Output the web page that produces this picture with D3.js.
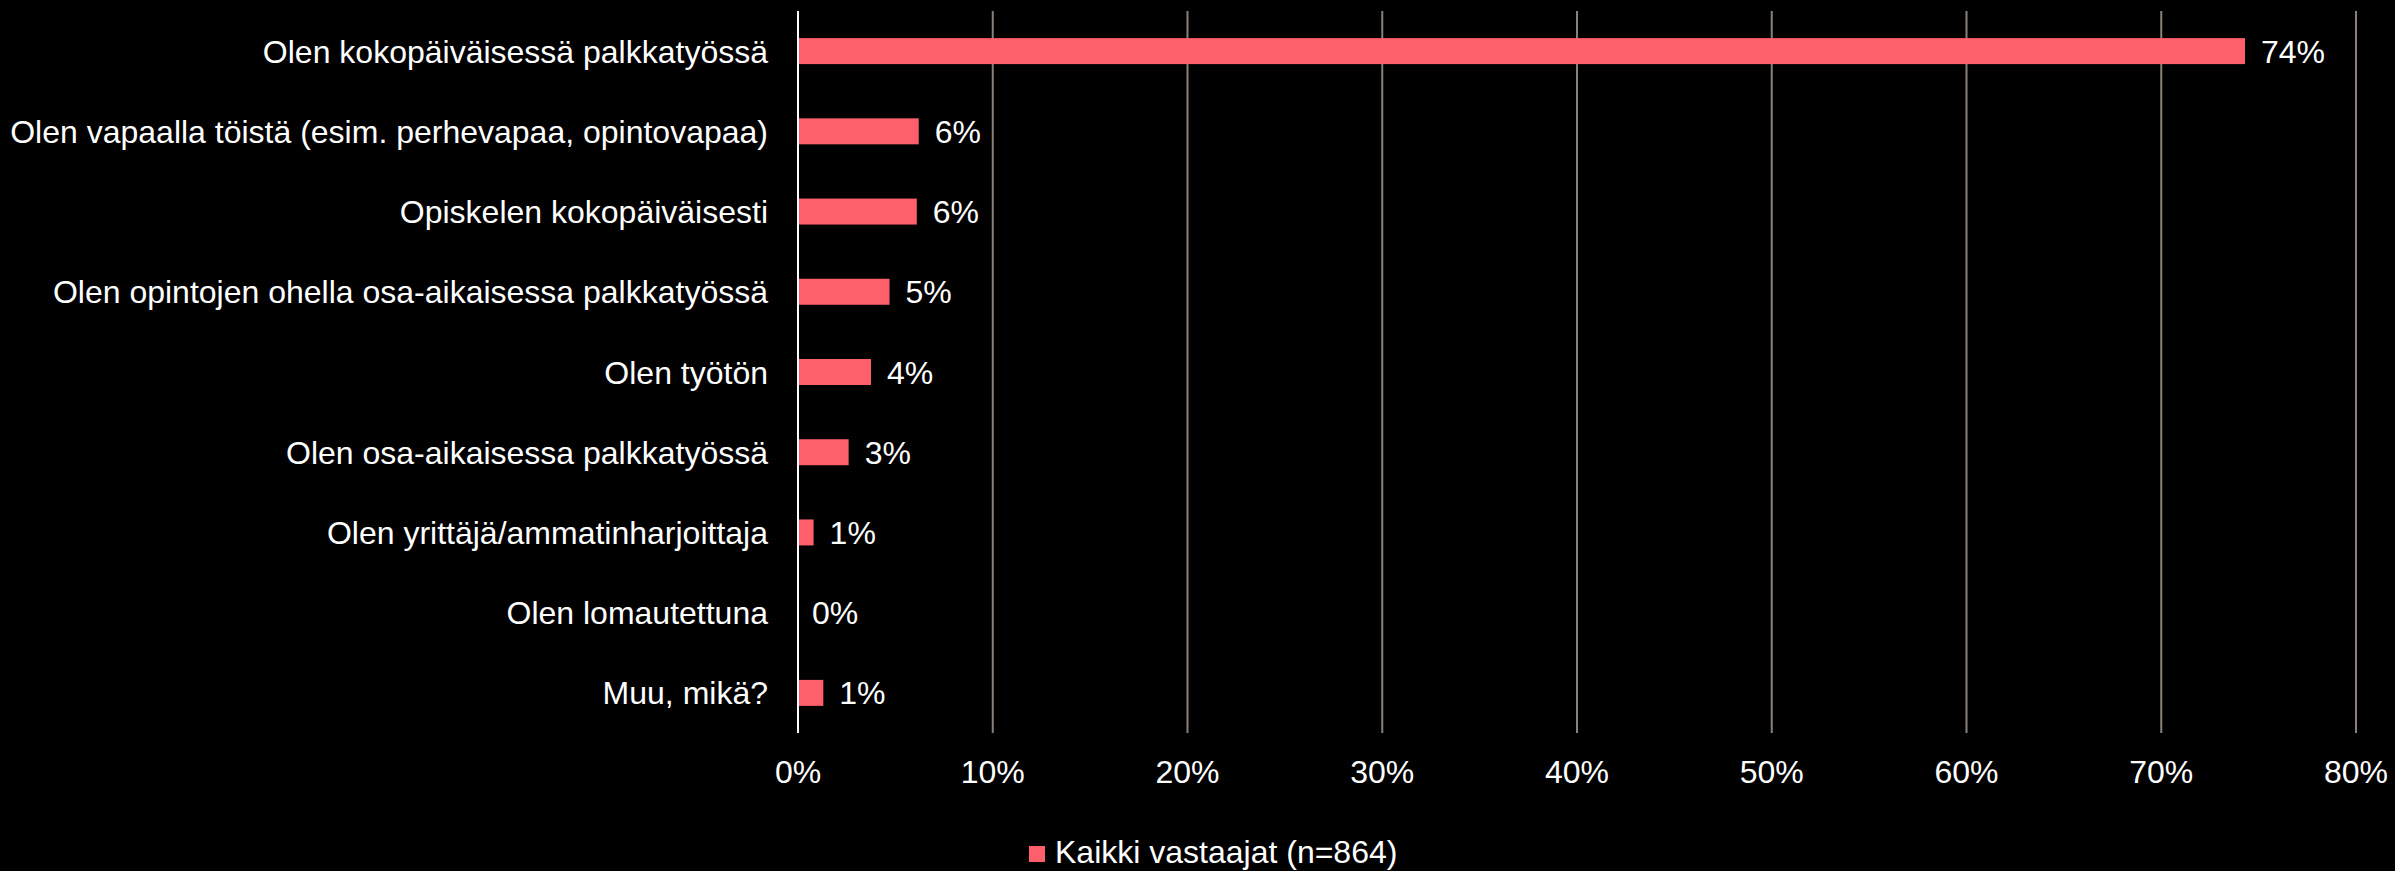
<!DOCTYPE html>
<html>
<head>
<meta charset="utf-8">
<script src="https://cdn.jsdelivr.net/npm/d3@7"></script>
<style>
  html, body { margin: 0; padding: 0; background: #000; }
  svg { display: block; }
  text { font-family: "Liberation Sans", Arial, sans-serif; fill: #fff; }
</style>
</head>
<body>
<div id="chart"></div>
<script>
var categories = [
	"Olen kokopäiväisessä palkkatyössä",
	"Olen vapaalla töistä (esim. perhevapaa, opintovapaa)",
	"Opiskelen kokopäiväisesti",
	"Olen opintojen ohella osa-aikaisessa palkkatyössä",
	"Olen työtön",
	"Olen osa-aikaisessa palkkatyössä",
	"Olen yrittäjä/ammatinharjoittaja",
	"Olen lomautettuna",
	"Muu, mikä?"
];
var values = [74.3, 6.2, 6.1, 4.7, 3.75, 2.6, 0.8, 0, 1.3];
var valueLabels = ["74%", "6%", "6%", "5%", "4%", "3%", "1%", "0%", "1%"];
var ticks = [0, 10, 20, 30, 40, 50, 60, 70, 80];
var seriesName = "Kaikki vastaajat (n=864)";

var width = 2395, height = 871;
var plotLeft = 798, plotRight = 2356, plotTop = 11, plotBottom = 733;
var barColor = "#ff5f6b";
var fontSize = "32px";

var svg = d3.select("#chart").append("svg").attr("width", width).attr("height", height);

var x = d3.scaleLinear().domain([0, 80]).range([plotLeft, plotRight]);
var y = d3.scaleBand().domain(categories).range([plotTop, plotBottom])
	.paddingInner(0.676).paddingOuter(0.338);

// gridlines
svg.append("g").selectAll("line")
	.data(ticks.filter(d => d > 0))
	.enter().append("line")
		.attr("x1", d => x(d)).attr("x2", d => x(d))
		.attr("y1", plotTop).attr("y2", plotBottom)
		.style("stroke", "#8a8077")
		.style("stroke-width", 2);

// bars
svg.append("g").selectAll("rect")
	.data(values)
	.enter().append("rect")
		.attr("x", x(0))
		.attr("y", (d, i) => y(categories[i]))
		.attr("width", d => x(d) - x(0))
		.attr("height", y.bandwidth())
		.style("fill", barColor);

// value labels
svg.append("g").selectAll("text")
	.data(values)
	.enter().append("text")
		.attr("x", d => x(d) + (d > 0 ? 16 : 14))
		.attr("y", (d, i) => y(categories[i]) + y.bandwidth() / 2)
		.attr("dy", "0.36em")
		.style("font-size", fontSize)
		.text((d, i) => valueLabels[i]);

// category labels
svg.append("g").selectAll("text")
	.data(categories)
	.enter().append("text")
		.attr("x", plotLeft - 30)
		.attr("y", d => y(d) + y.bandwidth() / 2)
		.attr("dy", "0.36em")
		.attr("text-anchor", "end")
		.style("font-size", fontSize)
		.text(d => d);

// axis line
svg.append("line")
	.attr("x1", x(0)).attr("x2", x(0))
	.attr("y1", plotTop).attr("y2", plotBottom)
	.style("stroke", "#fff")
	.style("stroke-width", 2);

// x tick labels
svg.append("g").selectAll("text")
	.data(ticks)
	.enter().append("text")
		.attr("x", d => x(d))
		.attr("y", 783)
		.attr("text-anchor", "middle")
		.style("font-size", fontSize)
		.text(d => d + "%");

// legend
var legend = svg.append("g").attr("transform", "translate(1029,846)");
legend.append("rect").attr("width", 16).attr("height", 16).style("fill", barColor);
legend.append("text").attr("x", 26).attr("y", 17).style("font-size", fontSize).text(seriesName);
</script>
</body>
</html>
